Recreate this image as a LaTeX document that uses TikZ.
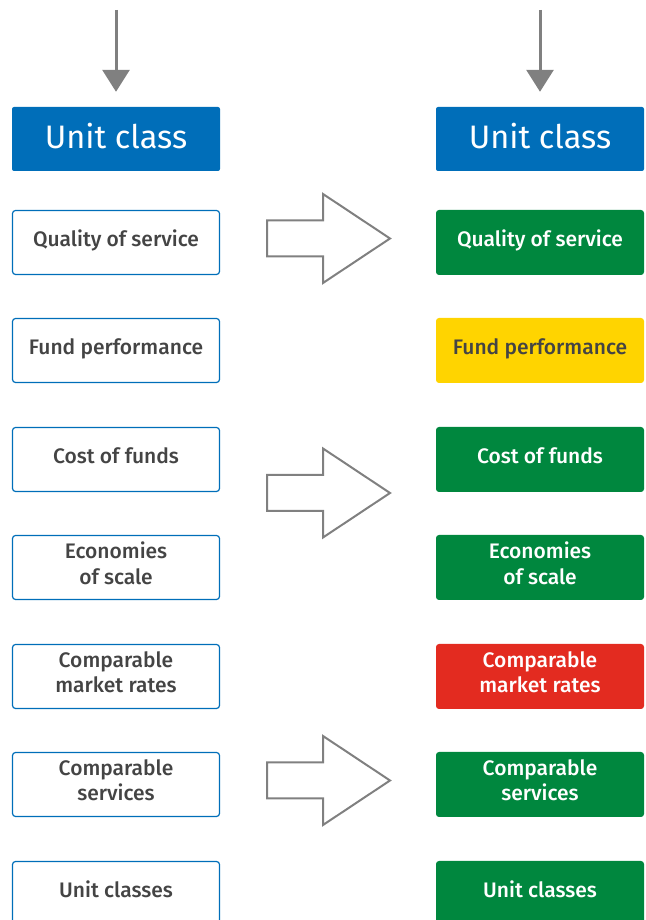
\documentclass[tikz,border=0pt]{standalone}
\usepackage{fontspec}
\setmainfont{Fira Sans}[BoldFont={Fira Sans Medium}]
\usetikzlibrary{arrows.meta,positioning}
\definecolor{unitblue}{RGB}{0,110,185}
\definecolor{passgreen}{RGB}{0,135,62}
\definecolor{warnyellow}{RGB}{255,212,0}
\definecolor{failred}{RGB}{227,43,32}
\definecolor{labelgrey}{RGB}{68,68,68}
\definecolor{arrowgrey}{RGB}{128,128,128}
\begin{document}
\begin{tikzpicture}[x=1pt,y=1pt,
	every node/.style={font=\bfseries\fontsize{21}{25.5}\selectfont, align=center, inner sep=0pt},
	lowtext/.style={execute at end node={\rule[-#1]{0pt}{0pt}}},
	leftbox/.style={draw=unitblue, line width=1.2pt, rounded corners=3pt, minimum width=207pt, minimum height=64pt, text=labelgrey, lowtext=8.5pt},
	rightbox/.style={fill=#1, rounded corners=3pt, minimum width=208pt, minimum height=65pt, text=white, lowtext=8.5pt},
	headbox/.style={fill=unitblue, rounded corners=2pt, minimum width=208pt, minimum height=64pt, text=white, font=\fontsize{32.5}{38}\selectfont, lowtext=6pt},
	downarrow/.style={draw=arrowgrey, line width=3pt, -{Triangle[width=27pt,length=22pt]}},
	blockarrow/.style={draw=arrowgrey, line width=2pt, line join=miter}]
			\useasboundingbox (0,0) rectangle (645,920);
			\clip (0,0) rectangle (645,920);
			% column heads
			\node[headbox] (headL) at (116,781) {Unit class};
			\node[headbox] (headR) at (540,781) {Unit class};
			\coordinate (topL) at (116,910);
			\coordinate (topR) at (540,910);
			\draw[downarrow] (topL) -- ([yshift=15pt]headL.north);
			\draw[downarrow] (topR) -- ([yshift=15pt]headR.north);
			% criteria, before
			\node[leftbox] (qualL) at (116,677.5) {Quality of service};
			\node[leftbox] (perfL) at (116,569.5) {Fund performance};
			\node[leftbox] (costL) at (116,460.5) {Cost of funds};
			\node[leftbox] (scaleL) at (116,352.5) {Economies\\of scale};
			\node[leftbox] (rateL) at (116,243.5) {Comparable\\market rates};
			\node[leftbox] (servL) at (116,135.5) {Comparable\\services};
			\node[leftbox] (classL) at (116,26.5) {Unit classes};
			% criteria, after
			\node[rightbox=passgreen] (qualR) at (540,677.5) {Quality of service};
			\node[rightbox=warnyellow, text=labelgrey] (perfR) at (540,569.5) {Fund performance};
			\node[rightbox=passgreen] (costR) at (540,460.5) {Cost of funds};
			\node[rightbox=passgreen] (scaleR) at (540,352.5) {Economies\\of scale};
			\node[rightbox=failred] (rateR) at (540,243.5) {Comparable\\market rates};
			\node[rightbox=passgreen] (servR) at (540,135.5) {Comparable\\services};
			\node[rightbox=passgreen] (classR) at (540,26.5) {Unit classes};
			% block arrows
			\foreach \ay in {681.5,427,139.5}
				\draw[blockarrow] (267,\ay+18) -- (323,\ay+18) -- (323,\ay+44.5) -- (390,\ay) -- (323,\ay-44.5) -- (323,\ay-18) -- (267,\ay-18) -- cycle;
		\end{tikzpicture}
\end{document}
